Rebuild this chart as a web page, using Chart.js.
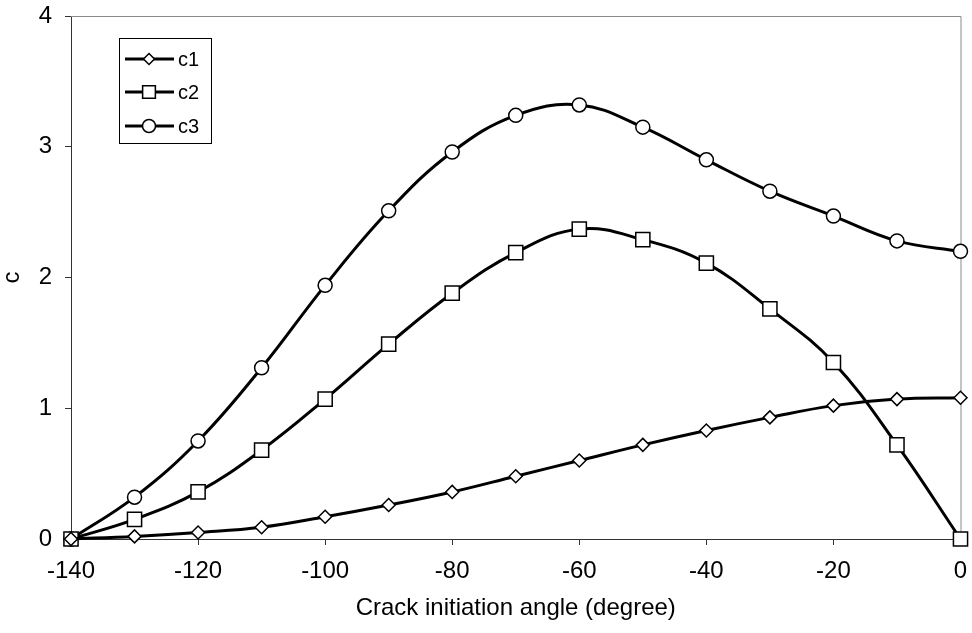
<!DOCTYPE html>
<html>
<head>
<meta charset="utf-8">
<script src="https://cdn.jsdelivr.net/npm/chart.js@4"></script>
<style>
  html, body { margin: 0; padding: 0; background: #fff; }
  #wrap { width: 972px; height: 633px; }
</style>
</head>
<body>
<div id="wrap"><canvas id="crackChart" width="972" height="633"></canvas></div>
<script>
// -----------------------------
// DATA
// -----------------------------
const angles = [-140, -130, -120, -110, -100, -90, -80, -70, -60, -50, -40, -30, -20, -10, 0];
const c1 = [0, 0.02, 0.05, 0.09, 0.17, 0.26, 0.36, 0.48, 0.60, 0.72, 0.83, 0.93, 1.02, 1.07, 1.08];
const c2 = [0, 0.15, 0.36, 0.68, 1.07, 1.49, 1.88, 2.19, 2.37, 2.29, 2.11, 1.76, 1.35, 0.72, 0];
const c3 = [0, 0.32, 0.75, 1.31, 1.94, 2.51, 2.96, 3.24, 3.32, 3.15, 2.90, 2.66, 2.47, 2.28, 2.20];
const seriesNames = ['c1', 'c2', 'c3'];
const xTicks = [-140, -120, -100, -80, -60, -40, -20, 0];
const yTicks = [0, 1, 2, 3, 4];

const FONT = 'Liberation Sans, Arial, sans-serif';
const styles = ['rectRot', 'rect', 'circle'];
const radii = [6.5, 10, 7];
const legendRadii = [5.5, 9, 6.5];

const toPoints = vals => vals.map((v, i) => ({ x: angles[i], y: v }));

// -----------------------------
// FRAME + LEGEND PLUGIN
// -----------------------------
function drawMarker(ctx, style, x, y, r) {
    ctx.beginPath();
    if (style === 'rectRot') {
        ctx.moveTo(x, y - r); ctx.lineTo(x + r, y);
        ctx.lineTo(x, y + r); ctx.lineTo(x - r, y);
        ctx.closePath();
    } else if (style === 'rect') {
        const s = r * Math.SQRT1_2;
        ctx.rect(x - s, y - s, 2 * s, 2 * s);
    } else {
        ctx.arc(x, y, r, 0, Math.PI * 2);
    }
    ctx.fillStyle = '#fff';
    ctx.fill();
    ctx.lineWidth = 1.5;
    ctx.strokeStyle = '#000';
    ctx.stroke();
}

const framePlugin = {
    id: 'frame',
    beforeDatasetsDraw(chart) {
        const { ctx, chartArea: a } = chart;
        ctx.save();
        ctx.strokeStyle = '#8a8a8a';
        ctx.lineWidth = 1;
        ctx.beginPath();
        ctx.moveTo(a.left, a.top + 0.5);
        ctx.lineTo(a.right + 0.5, a.top + 0.5);
        ctx.lineTo(a.right + 0.5, a.bottom);
        ctx.stroke();
        ctx.restore();
    },
    afterDraw(chart) {
        const ctx = chart.ctx;
        ctx.save();
        ctx.strokeStyle = '#000';
        ctx.lineWidth = 1;
        ctx.strokeRect(119.5, 38.5, 92, 105);
        const rows = [59, 92, 126];
        seriesNames.forEach((name, i) => {
            const y = rows[i];
            ctx.beginPath();
            ctx.moveTo(125, y);
            ctx.lineTo(174, y);
            ctx.lineWidth = 3;
            ctx.strokeStyle = '#000';
            ctx.stroke();
            drawMarker(ctx, styles[i], 149, y, legendRadii[i]);
            ctx.fillStyle = '#000';
            ctx.font = '20px ' + FONT;
            ctx.textBaseline = 'middle';
            ctx.textAlign = 'left';
            ctx.fillText(name, 178, y + 1);
        });
        ctx.restore();
    }
};

// -----------------------------
// CHART
// -----------------------------
const datasets = [c1, c2, c3].map((vals, i) => ({
    label: seriesNames[i],
    data: toPoints(vals),
    borderColor: '#000',
    borderWidth: 3,
    tension: 0.4,
    pointStyle: styles[i],
    pointRadius: radii[i],
    pointBackgroundColor: '#fff',
    pointBorderColor: '#000',
    pointBorderWidth: 1.5,
    clip: false
}));

new Chart(document.getElementById('crackChart'), {
    type: 'line',
    data: { datasets },
    plugins: [framePlugin],
    options: {
        responsive: false,
        animation: false,
        layout: { padding: { top: 16, right: 9, left: 0, bottom: 0 } },
        plugins: {
            legend: { display: false },
            tooltip: { enabled: false }
        },
        scales: {
            x: {
                type: 'linear',
                min: -140,
                max: 0,
                afterBuildTicks: s => { s.ticks = xTicks.map(v => ({ value: v })); },
                afterFit: s => {
                    s.height = 94;
                    s.paddingLeft = 0;
                    s.paddingRight = 0;
                },
                grid: {
                    drawOnChartArea: false,
                    tickLength: 6,
                    color: '#333'
                },
                border: { color: '#333', width: 1 },
                ticks: {
                    color: '#000',
                    padding: 12,
                    maxRotation: 0,
                    font: { family: FONT, size: 24 }
                },
                title: {
                    display: true,
                    text: 'Crack initiation angle (degree)',
                    color: '#000',
                    font: { family: FONT, size: 24 },
                    padding: { top: 0, bottom: 10 }
                }
            },
            y: {
                min: 0,
                max: 4,
                afterBuildTicks: s => { s.ticks = yTicks.map(v => ({ value: v })); },
                afterFit: s => {
                    s.width = 71;
                    s.paddingTop = 0;
                    s.paddingBottom = 0;
                },
                grid: {
                    drawOnChartArea: false,
                    tickLength: 6,
                    color: '#333'
                },
                border: { color: '#333', width: 1 },
                ticks: {
                    color: '#000',
                    padding: 13,
                    font: { family: FONT, size: 24 }
                },
                title: {
                    display: true,
                    text: 'c',
                    color: '#000',
                    font: { family: FONT, size: 24, lineHeight: 1 },
                    padding: { top: 0, bottom: 0 }
                }
            }
        }
    }
});
</script>
</body>
</html>
